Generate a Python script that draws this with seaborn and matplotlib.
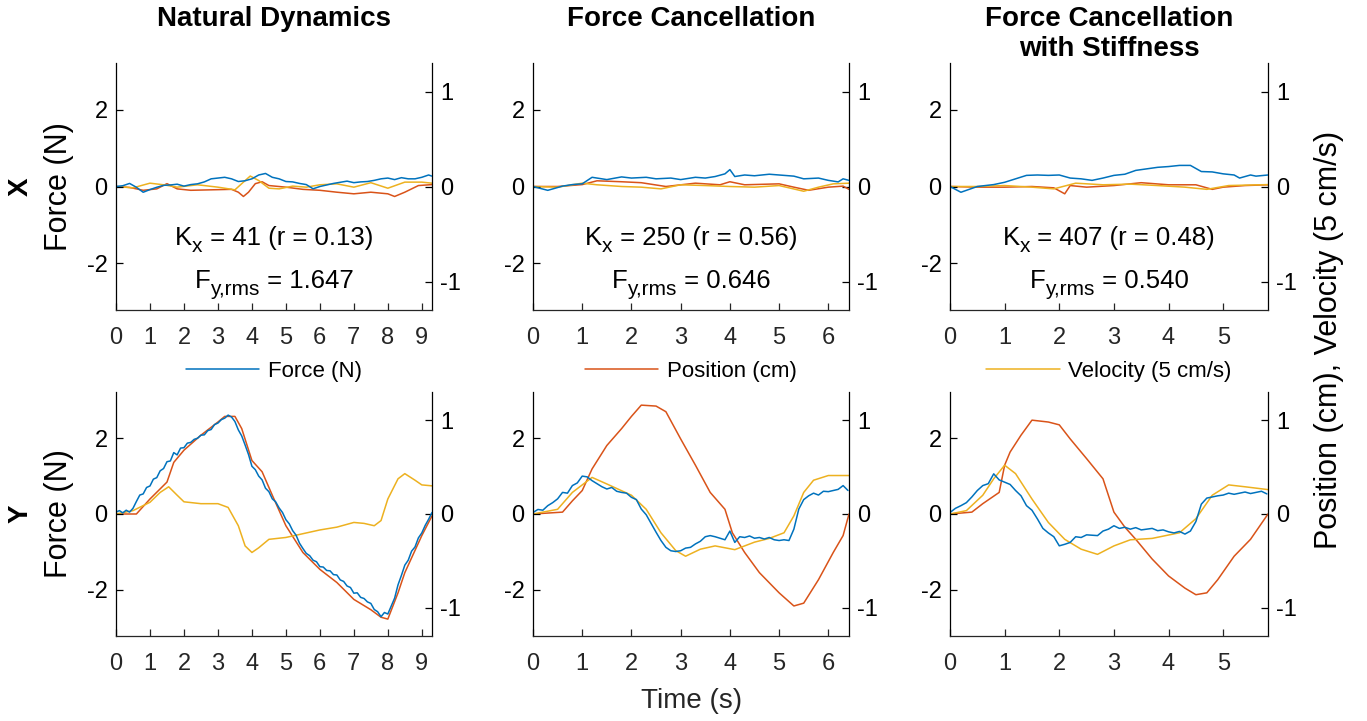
import numpy as np
import matplotlib.pyplot as plt
import seaborn as sns
from matplotlib.transforms import IdentityTransform

# ---------------- data ----------------
titles = ["Natural Dynamics", "Force Cancellation", "Force Cancellation\nwith Stiffness"]
legend_labels = ["Force (N)", "Position (cm)", "Velocity (5 cm/s)"]
k_text = [" = 41 (r = 0.13)", " = 250 (r = 0.56)", " = 407 (r = 0.48)"]
f_text = [" = 1.647", " = 0.646", " = 0.540"]
t_end = [9.3, 6.42, 5.82]

# --- Natural dynamics, X direction
t_nd_xf = [0, 0.2, 0.4, 0.6, 0.8, 1.0, 1.2, 1.4, 1.6, 1.8, 2.0, 2.2, 2.4, 2.6, 2.8, 3.0,
           3.2, 3.4, 3.6, 3.8, 4.0, 4.2, 4.4, 4.6, 4.8, 5.0, 5.2, 5.4, 5.6, 5.8, 6.0, 6.2,
           6.4, 6.6, 6.8, 7.0, 7.2, 7.4, 7.6, 7.8, 8.0, 8.2, 8.4, 8.6, 8.8, 9.0, 9.2, 9.3]
nd_xf = [0, 0.02, 0.08, -0.02, -0.15, -0.08, -0.02, 0.03, 0.04, 0.06, 0.01, 0.05, 0.07, 0.12,
         0.2, 0.22, 0.24, 0.2, 0.13, 0.15, 0.2, 0.3, 0.34, 0.24, 0.2, 0.13, 0.12, 0.08, 0.05,
         -0.06, 0.0, 0.04, 0.08, 0.11, 0.14, 0.1, 0.12, 0.13, 0.16, 0.2, 0.22, 0.18, 0.23, 0.2,
         0.2, 0.24, 0.3, 0.27]
t_nd_xp = [0, 0.4, 0.8, 1.2, 1.5, 1.8, 2.2, 2.8, 3.4, 3.6, 3.75, 3.9, 4.1, 4.3, 4.5, 5.0,
           5.5, 6.0, 6.5, 7.0, 7.5, 8.0, 8.2, 8.5, 8.9, 9.3]
nd_xp = [0, -0.01, -0.04, -0.025, 0.03, -0.025, -0.04, -0.035, -0.03, -0.06, -0.105, -0.06,
         0.03, 0.05, 0.01, -0.007, -0.03, -0.04, -0.06, -0.077, -0.06, -0.077, -0.105, -0.06,
         0.01, 0.02]
t_nd_xv = [0, 0.5, 1.0, 1.4, 1.8, 2.4, 3.0, 3.5, 3.75, 3.95, 4.2, 4.5, 4.8, 5.2, 5.6, 6.0,
           6.5, 7.0, 7.5, 8.0, 8.5, 9.0, 9.3]
nd_xv = [0, -0.014, 0.035, 0.018, -0.007, 0.018, -0.007, -0.035, 0.046, 0.11, 0.063, -0.018,
         -0.025, 0.004, -0.007, 0.018, 0.028, -0.007, 0.04, -0.018, 0.046, 0.046, 0.035]

# --- Natural dynamics, Y direction (force every 0.1 s)
nd_yf = [0.05, 0.09, 0.03, 0.1, 0.05, 0.15, 0.33, 0.5, 0.53, 0.7, 0.74, 0.92, 0.96, 1.14,
         1.2, 1.38, 1.4, 1.62, 1.56, 1.74, 1.75, 1.87, 1.89, 1.97, 2.0, 2.08, 2.09, 2.2, 2.23,
         2.36, 2.4, 2.49, 2.53, 2.61, 2.56, 2.44, 2.22, 2.06, 1.82, 1.57, 1.26, 1.17, 1.0, 0.9,
         0.68, 0.59, 0.4, 0.32, 0.16, 0.04, -0.15, -0.26, -0.44, -0.56, -0.77, -0.91, -1.04,
         -1.1, -1.22, -1.26, -1.39, -1.4, -1.49, -1.5, -1.6, -1.61, -1.74, -1.78, -1.9, -1.94,
         -2.09, -2.08, -2.2, -2.23, -2.32, -2.36, -2.52, -2.58, -2.71, -2.6, -2.64, -2.43,
         -2.22, -1.87, -1.62, -1.35, -1.22, -0.98, -0.87, -0.63, -0.5, -0.3, -0.14, 0.04]
t_nd_yp = [0, 0.6, 1.0, 1.5, 1.7, 2.0, 2.5, 3.0, 3.2, 3.5, 3.7, 4.0, 4.3, 4.6, 5.0, 5.5,
           6.0, 6.5, 7.0, 7.5, 7.8, 8.0, 8.3, 8.5, 9.0, 9.3]
nd_yp = [0, 0, 0.16, 0.34, 0.55, 0.68, 0.84, 0.98, 1.04, 1.04, 0.91, 0.57, 0.45, 0.2, -0.125,
         -0.41, -0.59, -0.73, -0.91, -1.02, -1.1, -1.12, -0.84, -0.625, -0.23, -0.02]
t_nd_yv = [0, 0.5, 1.0, 1.3, 1.55, 1.8, 2.0, 2.5, 3.0, 3.3, 3.6, 3.8, 4.0, 4.2, 4.5, 5.0,
           5.5, 6.0, 6.5, 7.0, 7.3, 7.6, 7.8, 8.0, 8.3, 8.5, 8.8, 9.0, 9.3]
nd_yv = [0, 0.036, 0.125, 0.23, 0.29, 0.2, 0.13, 0.11, 0.11, 0.07, -0.125, -0.34, -0.41,
         -0.36, -0.27, -0.25, -0.21, -0.17, -0.14, -0.09, -0.1, -0.125, -0.07, 0.16, 0.375,
         0.43, 0.36, 0.31, 0.3]

# --- Force cancellation, X direction
t_fc_xf = [0, 0.3, 0.6, 0.8, 1.0, 1.2, 1.5, 1.8, 2.0, 2.3, 2.5, 2.8, 3.0, 3.3, 3.5, 3.7,
           3.9, 4.0, 4.1, 4.3, 4.5, 4.8, 5.0, 5.3, 5.5, 5.8, 6.0, 6.2, 6.3, 6.42]
fc_xf = [0, -0.1, 0.01, 0.05, 0.07, 0.24, 0.18, 0.25, 0.22, 0.24, 0.2, 0.22, 0.18, 0.24,
         0.22, 0.26, 0.33, 0.44, 0.26, 0.3, 0.28, 0.32, 0.3, 0.27, 0.2, 0.22, 0.16, 0.12,
         0.2, 0.16]
t_fc_xp = [0, 0.5, 1.0, 1.3, 1.8, 2.2, 2.7, 3.3, 3.8, 4.0, 4.3, 5.0, 5.3, 5.6, 6.0, 6.3, 6.42]
fc_xp = [0, 0, 0.02, 0.06, 0.05, 0.04, 0, 0.035, 0.018, 0.05, 0.018, 0.028, -0.007, -0.04,
         -0.007, 0.004, -0.03]
t_fc_xv = [0, 0.5, 1.0, 1.3, 1.8, 2.2, 2.6, 3.0, 3.5, 4.0, 4.5, 5.0, 5.5, 5.8, 6.1, 6.42]
fc_xv = [0, -0.007, 0.035, 0.018, 0, -0.007, -0.025, 0.018, 0.01, 0, -0.007, 0.01, -0.05,
         -0.007, 0.028, 0.035]

# --- Force cancellation, Y direction (force every 0.1 s)
fc_yf = [0.04, 0.12, 0.1, 0.22, 0.3, 0.4, 0.57, 0.55, 0.75, 0.82, 1.0, 0.98, 0.88, 0.8,
         0.72, 0.66, 0.7, 0.6, 0.57, 0.55, 0.44, 0.38, 0.13, -0.02, -0.25, -0.48, -0.7, -0.88,
         -0.97, -0.99, -0.97, -0.9, -0.88, -0.79, -0.72, -0.6, -0.57, -0.6, -0.64, -0.68,
         -0.45, -0.75, -0.6, -0.62, -0.58, -0.64, -0.62, -0.66, -0.62, -0.68, -0.7, -0.68,
         -0.7, -0.4, 0.13, 0.38, 0.48, 0.55, 0.5, 0.6, 0.59, 0.62, 0.65, 0.75, 0.62]
t_fc_yp = [0, 0.6, 0.8, 1.0, 1.2, 1.5, 1.8, 2.0, 2.2, 2.5, 2.7, 3.0, 3.3, 3.6, 3.9, 4.05,
           4.3, 4.6, 5.0, 5.3, 5.5, 5.8, 6.1, 6.3, 6.42]
fc_yp = [0, 0.02, 0.14, 0.25, 0.48, 0.73, 0.91, 1.04, 1.16, 1.15, 1.09, 0.8, 0.52, 0.23,
         0.05, -0.2, -0.41, -0.625, -0.84, -0.98, -0.95, -0.7, -0.41, -0.23, 0]
t_fc_yv = [0, 0.5, 0.8, 1.2, 1.5, 2.0, 2.3, 2.6, 2.9, 3.1, 3.4, 3.7, 4.1, 4.5, 4.8, 5.1,
           5.3, 5.5, 5.7, 6.0, 6.42]
fc_yv = [0, 0.05, 0.23, 0.39, 0.32, 0.2, 0.05, -0.2, -0.39, -0.45, -0.375, -0.34, -0.38,
         -0.3, -0.26, -0.2, -0.02, 0.23, 0.36, 0.41, 0.41]

# --- Force cancellation with stiffness, X direction
t_fs_xf = [0, 0.2, 0.5, 0.8, 1.0, 1.2, 1.4, 1.6, 1.8, 2.0, 2.2, 2.4, 2.6, 2.8, 3.0, 3.2,
           3.4, 3.6, 3.8, 4.0, 4.2, 4.4, 4.6, 4.8, 5.0, 5.2, 5.3, 5.5, 5.6, 5.82]
fs_xf = [0, -0.15, 0, 0.05, 0.11, 0.2, 0.29, 0.3, 0.29, 0.3, 0.22, 0.2, 0.16, 0.22, 0.29,
         0.32, 0.42, 0.46, 0.5, 0.52, 0.55, 0.55, 0.39, 0.38, 0.33, 0.3, 0.22, 0.3, 0.27, 0.3]
t_fs_xp = [0, 0.5, 1.0, 1.5, 1.9, 2.1, 2.2, 2.5, 3.0, 3.5, 4.0, 4.5, 4.8, 5.0, 5.4, 5.82]
fs_xp = [0, -0.007, -0.007, 0, -0.014, -0.077, 0.01, -0.007, 0.01, 0.04, 0.018, 0.018,
         -0.03, -0.007, 0.01, 0.018]
t_fs_xv = [0, 0.5, 1.0, 1.5, 1.9, 2.3, 2.8, 3.3, 3.8, 4.3, 4.7, 5.1, 5.82]
fs_xv = [0, 0, 0.01, -0.007, -0.025, 0.035, 0.018, 0.025, 0.01, -0.007, -0.03, 0.01, 0.02]

# --- Force cancellation with stiffness, Y direction (force every 0.1 s)
fs_yf = [0.04, 0.15, 0.22, 0.3, 0.45, 0.62, 0.75, 0.8, 1.06, 0.9, 0.84, 0.78, 0.62, 0.48,
         0.22, 0.1, -0.13, -0.38, -0.5, -0.6, -0.84, -0.8, -0.75, -0.6, -0.62, -0.55, -0.56,
         -0.57, -0.45, -0.4, -0.31, -0.38, -0.35, -0.4, -0.36, -0.42, -0.4, -0.38, -0.44,
         -0.42, -0.47, -0.5, -0.46, -0.53, -0.45, -0.2, 0.26, 0.42, 0.45, 0.48, 0.5, 0.55,
         0.52, 0.55, 0.58, 0.54, 0.57, 0.6, 0.53]
t_fs_yp = [0, 0.4, 0.6, 0.9, 1.0, 1.1, 1.3, 1.5, 1.8, 2.0, 2.2, 2.5, 2.8, 3.0, 3.2, 3.4,
           3.7, 4.0, 4.3, 4.5, 4.7, 4.9, 5.2, 5.5, 5.82]
fs_yp = [0, 0.02, 0.11, 0.23, 0.52, 0.66, 0.84, 1.0, 0.98, 0.95, 0.8, 0.59, 0.375, 0.02,
         -0.14, -0.27, -0.48, -0.66, -0.79, -0.86, -0.84, -0.7, -0.45, -0.27, 0]
t_fs_yv = [0, 0.3, 0.6, 0.8, 1.0, 1.2, 1.5, 1.8, 2.1, 2.4, 2.7, 3.0, 3.3, 3.7, 4.2, 4.5,
           4.8, 5.1, 5.4, 5.82]
fs_yv = [0, 0.036, 0.2, 0.375, 0.52, 0.43, 0.16, -0.09, -0.27, -0.375, -0.43, -0.34, -0.275,
         -0.26, -0.2, -0.05, 0.2, 0.31, 0.29, 0.26]

panels = [
    [(t_nd_xf, nd_xf, t_nd_xp, nd_xp, t_nd_xv, nd_xv),
     (t_fc_xf, fc_xf, t_fc_xp, fc_xp, t_fc_xv, fc_xv),
     (t_fs_xf, fs_xf, t_fs_xp, fs_xp, t_fs_xv, fs_xv)],
    [(np.round(np.arange(len(nd_yf)) * 0.1, 1), nd_yf, t_nd_yp, nd_yp, t_nd_yv, nd_yv),
     (np.round(np.arange(len(fc_yf)) * 0.1, 1), fc_yf, t_fc_yp, fc_yp, t_fc_yv, fc_yv),
     (np.round(np.arange(len(fs_yf)) * 0.1, 1), fs_yf, t_fs_yp, fs_yp, t_fs_yv, fs_yv)],
]

# ---------------- style ----------------
sns.set_style("ticks")
plt.rcParams['font.family'] = ['Liberation Sans', 'DejaVu Sans']
plt.rcParams['text.color'] = 'black'

c_force, c_pos, c_vel = '#0072BD', '#D95319', '#EDB120'
gray = '#262626'
W, H = 1367, 721

fig = plt.figure(figsize=(W / 100, H / 100), dpi=100)
renderer = fig.canvas.get_renderer()


def sub_text(ax, yfrac, base, sub, rest, size=18.5, sub_size=15, drop=7):
    # MATLAB-like subscript: base, lowered subscript, rest, centred as one line
    parts = [(base, size, 0), (sub, sub_size, -drop), (rest, size, 0)]
    widths = []
    for s, fs, _ in parts:
        t = fig.text(0, 0, s, fontsize=fs)
        widths.append(t.get_window_extent(renderer).width)
        t.remove()
    cx, cy = ax.transAxes.transform((0.5, yfrac))
    x = cx - sum(widths) / 2
    for (s, fs, dy), w in zip(parts, widths):
        fig.text(x, cy + dy, s, fontsize=fs, ha='left', va='baseline',
                 transform=IdentityTransform())
        x += w


col_left = [116, 533, 950]
col_right = [432, 849, 1268]
row_top = [63, 392]
row_bot = [310, 636]

for r in range(2):
    for c in range(3):
        x0, x1 = col_left[c], col_right[c]
        y0, y1 = row_top[r], row_bot[r]
        ax = fig.add_axes([x0 / W, 1 - y1 / H, (x1 - x0) / W, (y1 - y0) / H])
        ax2 = ax.twinx()
        tf, f, tp, p, tv, v = panels[r][c]
        sns.lineplot(x=tp, y=p, ax=ax2, color=c_pos, linewidth=1.1, estimator=None, sort=False)
        sns.lineplot(x=tv, y=v, ax=ax2, color=c_vel, linewidth=1.1, estimator=None, sort=False)
        sns.lineplot(x=tf, y=f, ax=ax, color=c_force, linewidth=1.1, estimator=None, sort=False)
        ax.set_zorder(ax2.get_zorder() + 1)
        ax.patch.set_visible(False)

        ax.set_xlim(0, t_end[c])
        ax.set_ylim(-3.22, 3.22)
        ax2.set_ylim(-1.3, 1.3)
        ax.set_xticks(range(0, int(t_end[c]) + 1))
        ax.set_yticks([-2, 0, 2])
        ax2.set_yticks([-1, 0, 1])
        ax.set_yticklabels(['-2', '0', '2'])
        ax2.set_yticklabels(['-1', '0', '1'])

        for s in ['top', 'right']:
            ax.spines[s].set_visible(False)
        for s in ['top', 'left', 'bottom']:
            ax2.spines[s].set_visible(False)
        ax.spines['left'].set_color('black')
        ax.spines['bottom'].set_color(gray)
        ax2.spines['right'].set_color('black')
        for sp in list(ax.spines.values()) + list(ax2.spines.values()):
            sp.set_linewidth(0.9)

        ax.tick_params(axis='x', direction='in', length=5, width=0.9, labelsize=17,
                       colors=gray, pad=12)
        ax.tick_params(axis='y', direction='in', length=5, width=0.9, labelsize=17,
                       colors='black', pad=6)
        ax2.tick_params(axis='y', direction='in', length=5, width=0.9, labelsize=17,
                        colors='black', pad=6)
        ax.set_xlabel('')
        ax.set_ylabel('')
        ax2.set_ylabel('')

        if r == 0:
            sub_text(ax, 0.263, 'K', 'x', k_text[c])
            sub_text(ax, 0.088, 'F', 'y,rms', f_text[c])
            handle = [ax.get_lines()[0], ax2.get_lines()[0], ax2.get_lines()[1]][c]
            ax.legend(handles=[handle], labels=[legend_labels[c]], loc='center',
                      bbox_to_anchor=(0.5, -0.247), frameon=False, fontsize=16,
                      handlelength=3.3, handletextpad=0.4, labelcolor='black')
            fig.text((x0 + x1) / 2 / W, 1 - 6 / H, titles[c], ha='center', va='top',
                     fontsize=20, fontweight='bold')

    yc = (row_top[r] + row_bot[r]) / 2
    fig.text(59 / W, 1 - yc / H, 'Force (N)', rotation=90, ha='center', va='center',
             fontsize=22)
    fig.text(21 / W, 1 - yc / H, ['X', 'Y'][r], rotation=90, ha='center', va='center',
             fontsize=20, fontweight='bold')

fig.text(1329 / W, 1 - 340 / H, 'Position (cm), Velocity (5 cm/s)', rotation=90,
         ha='center', va='center', fontsize=22)
fig.text(692 / W, 1 - 701 / H, 'Time (s)', ha='center', va='center', fontsize=20,
         color=gray)

fig.savefig('out.png', dpi=100)
